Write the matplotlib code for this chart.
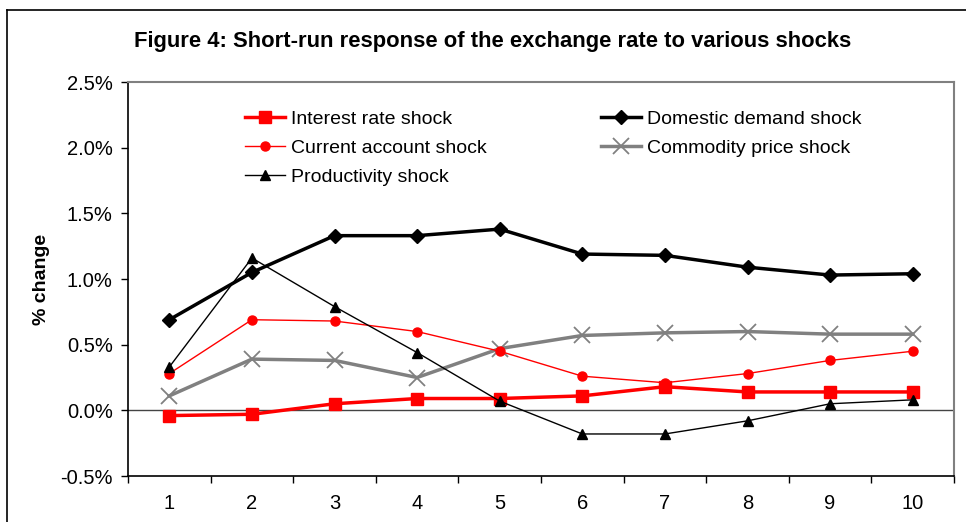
import matplotlib
matplotlib.use("Agg")
import matplotlib.pyplot as plt
from matplotlib.lines import Line2D
from matplotlib.ticker import FuncFormatter, FixedLocator

plt.rcParams['font.family'] = ['Liberation Sans', 'DejaVu Sans']

periods = [1, 2, 3, 4, 5, 6, 7, 8, 9, 10]
interest_rate = [-0.04, -0.03, 0.05, 0.09, 0.09, 0.11, 0.18, 0.14, 0.14, 0.14]
current_account = [0.28, 0.69, 0.68, 0.60, 0.45, 0.26, 0.21, 0.28, 0.38, 0.45]
productivity = [0.33, 1.16, 0.79, 0.44, 0.07, -0.18, -0.18, -0.08, 0.05, 0.08]
domestic_demand = [0.69, 1.05, 1.33, 1.33, 1.38, 1.19, 1.18, 1.09, 1.03, 1.04]
commodity_price = [0.11, 0.39, 0.38, 0.25, 0.47, 0.57, 0.59, 0.60, 0.58, 0.58]
y_ticks = [-0.5, 0.0, 0.5, 1.0, 1.5, 2.0, 2.5]

fig = plt.figure(figsize=(9.66, 5.22), dpi=100)
ax = fig.add_axes([128/966, 1-476/522, (954-128)/966, (476-82)/522])

ax.axhline(0, color='#444444', lw=1.0, zorder=1)

ax.plot(periods, interest_rate, color='#ff0000', lw=2.5, marker='s', ms=9,
        label='Interest rate shock', zorder=4)
ax.plot(periods, current_account, color='#ff0000', lw=1.0, marker='o', ms=6.5,
        label='Current account shock', zorder=4)
ax.plot(periods, productivity, color='black', lw=1.0, marker='^', ms=7,
        label='Productivity shock', zorder=5)
ax.plot(periods, domestic_demand, color='black', lw=2.5, marker='D', ms=7,
        label='Domestic demand shock', zorder=4)
ax.plot(periods, commodity_price, color='#808080', lw=2.5, marker='x', ms=11,
        mew=1.3, label='Commodity price shock', zorder=3)

ax.set_xlim(0.5, 10.5)
ax.set_ylim(-0.5, 2.5)
ax.set_xticks(periods)
ax.set_xticklabels([str(p) for p in periods])
ax.xaxis.set_minor_locator(FixedLocator([i + 0.5 for i in range(0, 11)]))
ax.tick_params(axis='x', which='major', length=0, pad=13, labelsize=14.5)
ax.tick_params(axis='x', which='minor', length=5, direction='out', width=1)
ax.set_yticks(y_ticks)
ax.yaxis.set_major_formatter(FuncFormatter(lambda v, p: f"{v:.1f}%"))
ax.tick_params(axis='y', length=5, direction='out', width=1, pad=6, labelsize=14.5)

for s in ['left', 'bottom']:
    ax.spines[s].set_color('black')
    ax.spines[s].set_linewidth(1.2)
for s in ['top', 'right']:
    ax.spines[s].set_color('#808080')
    ax.spines[s].set_linewidth(1.5)

ax.set_ylabel('% change', fontsize=14, fontweight='bold', labelpad=7)

leg = ax.legend(ncol=2, loc='upper left', bbox_to_anchor=(0.1416, 0.928),
                frameon=False, fontsize=14, handlelength=2.05,
                handletextpad=0.3, columnspacing=5.9, labelspacing=0.58,
                borderaxespad=0, borderpad=0)

fig.text(0.51, 1-42/522, 'Figure 4: Short-run response of the exchange rate to various shocks',
         ha='center', va='center', fontsize=15.8, fontweight='bold')

fig.add_artist(Line2D([7/966, 7/966], [0, 1-10/522], transform=fig.transFigure,
                      color='black', lw=1.2))
fig.add_artist(Line2D([7/966, 1], [1-10/522, 1-10/522], transform=fig.transFigure,
                      color='black', lw=1.2))

fig.savefig('out.png', dpi=100)
